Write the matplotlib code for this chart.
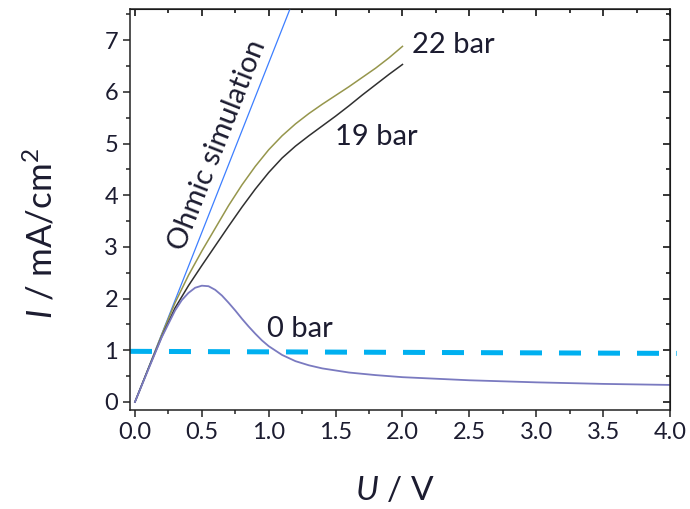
import matplotlib
matplotlib.use('Agg')
from matplotlib import pyplot as plt
from matplotlib.ticker import MultipleLocator, FormatStrFormatter

plt.rcParams['font.family'] = ['Lato', 'DejaVu Sans']
plt.rcParams['mathtext.fontset'] = 'custom'
plt.rcParams['mathtext.rm'] = 'Lato'
plt.rcParams['mathtext.it'] = 'Lato:italic'

# 22 bar
U_22 = [0, 0.1, 0.2, 0.3, 0.4, 0.5, 0.6, 0.7, 0.8, 0.9, 1.0, 1.1, 1.2, 1.3, 1.4, 1.5, 1.6, 1.7, 1.8, 1.9, 2.0]
I_22 = [0, 0.65, 1.3, 1.92, 2.45, 2.92, 3.36, 3.8, 4.2, 4.56, 4.88, 5.15, 5.38, 5.58, 5.76, 5.93, 6.1, 6.28, 6.46, 6.66, 6.88]

# 19 bar
U_19 = [0, 0.1, 0.2, 0.3, 0.4, 0.5, 0.6, 0.7, 0.8, 0.9, 1.0, 1.1, 1.2, 1.3, 1.4, 1.5, 1.6, 1.7, 1.8, 1.9, 2.0]
I_19 = [0, 0.64, 1.26, 1.82, 2.25, 2.64, 3.02, 3.4, 3.77, 4.12, 4.44, 4.72, 4.95, 5.15, 5.34, 5.53, 5.73, 5.94, 6.14, 6.34, 6.53]

# 0 bar
U_0 = [0, 0.1, 0.2, 0.3, 0.35, 0.4, 0.45, 0.5, 0.55, 0.6, 0.65, 0.7, 0.75, 0.8, 0.85, 0.9, 0.95, 1.0,
       1.1, 1.2, 1.3, 1.4, 1.6, 1.8, 2.0, 2.5, 3.0, 3.5, 4.0]
I_0 = [0, 0.63, 1.25, 1.77, 1.97, 2.11, 2.21, 2.25, 2.24, 2.17, 2.06, 1.92, 1.77, 1.61, 1.46, 1.32, 1.19, 1.08,
       0.91, 0.79, 0.71, 0.65, 0.57, 0.52, 0.48, 0.42, 0.38, 0.35, 0.33]

# ohmic simulation
U_ohm = [0, 1.25]
I_ohm = [0, 8.2]

# 1 mA/cm2 level
U_lim = [-0.037, 4.05]
I_lim = [0.98, 0.94]

fig = plt.figure(figsize=(6.9, 5.09), dpi=100)
ax = fig.add_axes([0.1884, 0.1945, 0.7826, 0.7875])

ax.plot(U_ohm, I_ohm, color='#3d7fff', linewidth=0.9)
ax.plot(U_22, I_22, color='#96964c', linewidth=1.1)
ax.plot(U_19, I_19, color='#303030', linewidth=1.1)
ax.plot(U_0, I_0, color='#7a7ac0', linewidth=1.3)
ax.plot(U_lim, I_lim, color='#00b0f0', linewidth=3.6, dashes=(4.4, 3.4), clip_on=False)

ax.set_xlim(-0.037, 4.0)
ax.set_ylim(-0.155, 7.6)

ax.xaxis.set_major_locator(MultipleLocator(0.5))
ax.xaxis.set_minor_locator(MultipleLocator(0.25))
ax.yaxis.set_major_locator(MultipleLocator(1))
ax.yaxis.set_minor_locator(MultipleLocator(0.5))
ax.xaxis.set_major_formatter(FormatStrFormatter('%.1f'))

ax.tick_params(which='both', direction='out', labelsize=17, colors='#222222',
               labelcolor='#1c1c30', width=1.1)
ax.tick_params(which='major', length=5)
ax.tick_params(which='minor', length=3)

top = ax.secondary_xaxis('top')
top.xaxis.set_major_locator(MultipleLocator(0.5))
top.xaxis.set_minor_locator(MultipleLocator(0.25))
top.tick_params(which='both', direction='in', labeltop=False, width=1.1)
top.tick_params(which='major', length=5)
top.tick_params(which='minor', length=3)

right = ax.secondary_yaxis('right')
right.yaxis.set_major_locator(MultipleLocator(1))
right.yaxis.set_minor_locator(MultipleLocator(0.5))
right.tick_params(which='both', direction='in', labelright=False, width=1.1)
right.tick_params(which='major', length=5)
right.tick_params(which='minor', length=3)

for sp in ax.spines.values():
    sp.set_linewidth(1.1)
    sp.set_color('#222222')

ax.set_xlabel(r'$\mathit{U}$ / V', fontsize=24, color='#1c1c30')
ax.set_ylabel(r'$\mathit{I}$ / mA/cm$^{2}$', fontsize=25, color='#1c1c30')
ax.xaxis.set_label_coords(0.49, -0.165)
ax.yaxis.set_label_coords(-0.133, 0.44)

ax.text(0.617, 4.97, 'Ohmic simulation', rotation=68.5, fontsize=21, color='#1c1c30',
        ha='center', va='center', rotation_mode='anchor')
ax.text(2.07, 6.91, '22 bar', fontsize=21, ha='left', va='center', color='#1c1c30')
ax.text(1.495, 5.12, '19 bar', fontsize=21, ha='left', va='center', color='#1c1c30')
ax.text(0.99, 1.41, '0 bar', fontsize=21, ha='left', va='center', color='#1c1c30')

plt.savefig('out.png', dpi=100)
